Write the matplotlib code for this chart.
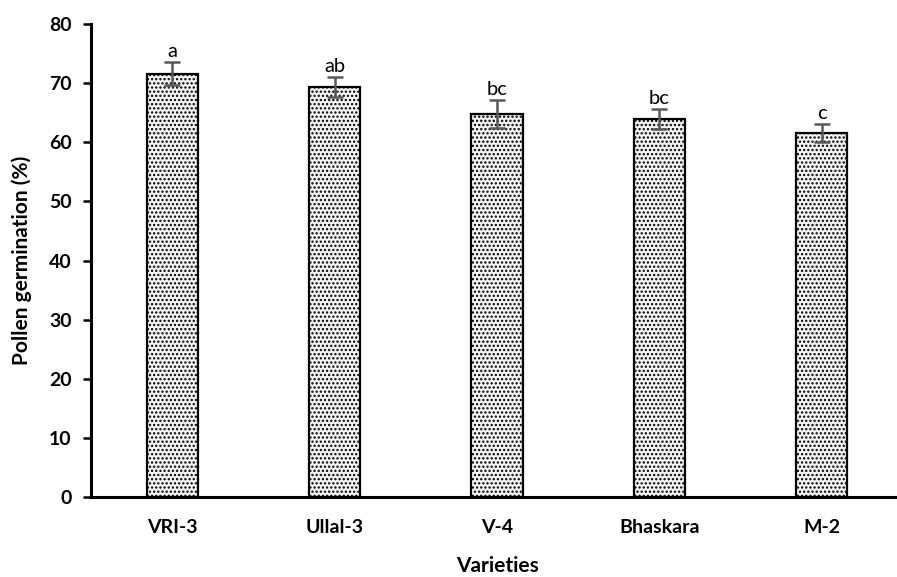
import matplotlib
matplotlib.use("Agg")
import matplotlib.pyplot as plt

plt.rcParams["font.family"] = ["Lato", "DejaVu Sans"]
plt.rcParams["hatch.linewidth"] = 1.1
plt.rcParams["hatch.color"] = "#111111"

varieties = ["VRI-3", "Ullal-3", "V-4", "Bhaskara", "M-2"]
germination = [71.6, 69.4, 64.8, 63.9, 61.6]
std_err = [2.0, 1.7, 2.4, 1.7, 1.5]
groups = ["a", "ab", "bc", "bc", "c"]

fig = plt.figure(figsize=(8.97, 5.77), dpi=100)
ax = fig.add_axes([91 / 897, 80 / 577, 812 / 897, 473 / 577])

x = range(len(varieties))
ax.bar(x, germination, width=0.315, color="#f4f4f4", edgecolor="black",
       linewidth=1.6, hatch="....", zorder=2)
ax.errorbar(x, germination, yerr=std_err, fmt="none", ecolor="#595959",
            elinewidth=1.8, capsize=6, capthick=1.8, zorder=3)

for xi, v, e, g in zip(x, germination, std_err, groups):
    ax.text(xi, v + e + 0.3, g, ha="center", va="bottom", fontsize=14.5)

ax.set_xlim(-0.5, 4.5)
ax.set_ylim(0, 80)
ax.set_yticks(range(0, 81, 10))
ax.set_xticks(list(x))
ax.set_xticklabels(varieties, fontsize=14, fontweight="bold")
ax.tick_params(axis="y", labelsize=14, width=1.8, length=6, direction="out", pad=8)
ax.tick_params(axis="x", length=0, pad=16)
for lbl in ax.get_yticklabels():
    lbl.set_fontweight("bold")

for side in ("top", "right"):
    ax.spines[side].set_visible(False)
for side in ("left", "bottom"):
    ax.spines[side].set_linewidth(2.2)

ax.set_ylabel("Pollen germination (%)", fontsize=15, fontweight="bold", labelpad=12)
ax.set_xlabel("Varieties", fontsize=15, fontweight="bold", labelpad=14)

fig.savefig("out.png", dpi=100)
